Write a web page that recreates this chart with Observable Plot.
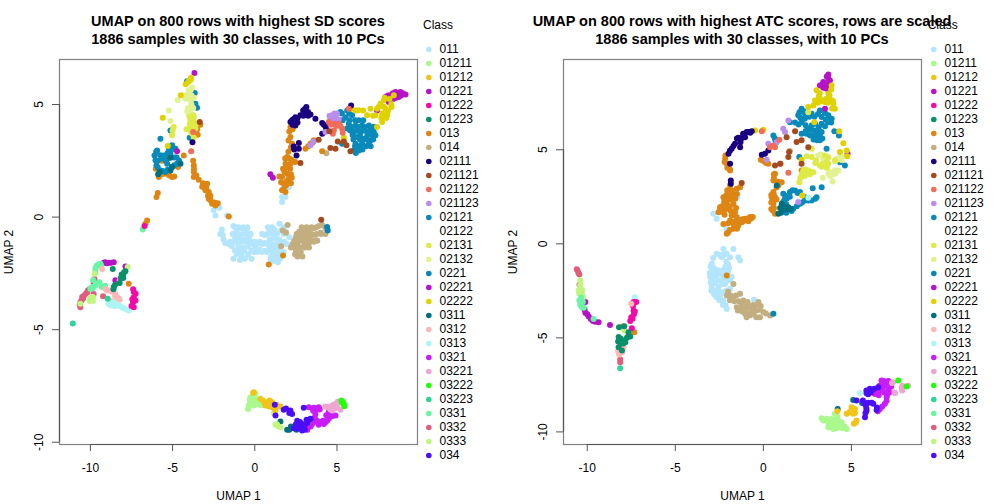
<!DOCTYPE html>
<html><head><meta charset="utf-8">
<script src="https://cdn.jsdelivr.net/npm/d3@7"></script>
<script src="https://cdn.jsdelivr.net/npm/@observablehq/plot@0.6"></script>
<style>
html,body{margin:0;padding:0;background:#fff;overflow:hidden;width:1008px;height:504px}
#page{position:relative;width:1008px;height:504px;font-family:"Liberation Sans",sans-serif;color:#000}
#page>*{position:absolute}
.title{font-size:14.5px;font-weight:bold;line-height:18px;text-align:center;white-space:nowrap;transform:translateX(-50%)}
.ctitle{font-size:12px;line-height:14px}
</style></head><body><div id="page"></div>
<script>
const classes=["011","01211","01212","01221","01222","01223","013","014","02111","021121","021122","021123","02121","02122","02131","02132","0221","02221","02222","0311","0312","0313","0321","03221","03222","03223","0331","0332","0333","034"];
const colors=["#b3e5fc","#a9f98d","#f0c419","#b612c6","#f40aa6","#09906a","#dd8613","#c2ae7f","#1a0080","#a44a1f","#f16c59","#b98feb","#098aba","#ffffff","#deea47","#e3f290","#0a85b8","#b412d0","#e0d200","#00707f","#ffb8b8","#acf5f3","#c91cfb","#eea6d0","#22ff0a","#2dd397","#6af5a5","#de5e7c","#c0f67e","#4a0ff6"];
const xTicks=[-10,-5,0,5], yTicksSD=[-10,-5,0,5], yTicksATC=[-10,-5,0,5];

// ---- SD panel ----
const sd_011=[[-2.5,.3],[-2.39,.07],[-2.15,.41],[-1.68,.07],[1.66,.89],[1.66,.67],[2.07,1.33],[1.87,.89],[-2.1,-.75],[-1.9,-1],[-1.6,-1.2],[-1.3,-.4],[-1.1,-.6],[-.8,-.5],[-.5,-.6],[-1.2,-.9],[-.9,-.95],[-.6,-1],[-.35,-.9],[-1.4,-1.3],[-1,-1.3],[-.7,-1.35],[-.4,-1.3],[-1.1,-1.65],[-.8,-1.7],[-.4,-1.65],[-.1,-1.2],[-.05,-1.55],[-.9,-1.9],[.6,-.8],[.9,-.6],[1.2,-.55],[1.5,-.3],[1.6,-.6],[1.9,-.65],[2.1,-.9],[.3,-1.1],[.6,-1.15],[.9,-1],[1.2,-.95],[1.5,-1],[1.8,-1.1],[0,-1.3],[.3,-1.45],[.6,-1.5],[.9,-1.4],[1.2,-1.35],[1.5,-1.35],[1,-1.75],[1.3,-1.7],[1.6,-1.65],[1.1,-1.95],[1.4,-2],[-1.2,-.45],[-1,-.45],[-.7,-.45],[-.45,-.45],[-1.35,-.75],[-1.05,-.75],[-.75,-.75],[-.45,-.75],[-.25,-.75],[-1.5,-1.1],[-1.25,-1.1],[-1,-1.1],[-.75,-1.1],[-.5,-1.1],[-.25,-1.1],[0,-1.1],[-1.2,-1.5],[-.95,-1.5],[-.65,-1.5],[-.2,-1.5],[.2,-1.5],[-1.3,-1.85],[-.6,-1.85],[-.2,-1.85],[-1.95,-.8],[-1.8,-1.15],[-2,-.55],[.45,-.75],[.75,-.75],[1.05,-.75],[1.35,-.75],[1.75,-.75],[.15,-1.2],[.45,-1.2],[.75,-1.2],[1.05,-1.2],[1.35,-1.2],[1.65,-1.2],[1.95,-1.2],[.8,-.45],[1.05,-.45],[1.75,-.45],[.15,-1.55],[.45,-1.55],[.75,-1.55],[1.1,-1.55],[1.4,-1.55],[1.75,-1.55],[.95,-1.85],[1.25,-1.85],[1.55,-1.85]];
const sd_014=[[2.7,-.65],[3,-.6],[3.3,-.55],[3.6,-.5],[3.9,-.4],[4.1,-.35],[4.3,-.5],[2.5,-.9],[2.8,-.95],[3.1,-.9],[3.4,-.85],[3.7,-.8],[4,-.7],[2.3,-1.2],[2.6,-1.2],[3,-1.25],[3.3,-1.15],[3.6,-1.1],[2.5,-1.5],[2.8,-1.55],[2.6,-1.75],[2.9,-1.75],[1.6,-1.3],[1.7,-.6],[2,-.35],[1.9,-.7],[4.36,2.84],[2.85,-.45],[3.15,-.45],[3.45,-.45],[3.75,-.45],[2.55,-.75],[2.85,-.75],[3.15,-.75],[3.45,-.75],[3.75,-.75],[4.05,-.75],[4.3,-.75],[2.4,-1.05],[2.7,-1.05],[2.95,-1.05],[3.25,-1.05],[3.55,-1.05],[3.8,-1.05],[2.2,-1.35],[2.45,-1.35],[2.75,-1.35],[3.05,-1.35],[3.3,-1.35],[2.45,-1.65],[2.75,-1.65]];
const sd_013=[[-5.54,2.52],[-5.33,2.59],[-6.02,2.15],[-5.84,1.78],[-5.44,1.93],[-5.03,1.78],[-4.67,2.22],[-4.32,2.74],[-3.71,2.3],[-3.71,2],[-3.71,1.78],[-3.41,1.66],[-3.1,1.41],[-2.9,1.48],[-3,1.19],[-2.8,1.11],[-2.8,.81],[-2.6,.59],[-2.25,.62],[-2.39,.52],[-5.9,1.07],[-5.98,.89],[-6.55,-.15],[-6.65,-.3],[-1.58,.03],[-3.47,3.66],[-3.31,4.1],[2.17,4],[2.17,3.56],[2.27,3.26],[2.37,3.04],[1.97,2.67],[1.87,2.37],[2.17,2.37],[1.97,1.93],[1.66,1.78],[2.07,1.7],[1.76,1.48],[1.66,1.19],[1.87,1.11],[3.08,3.04],[3.39,3.26],[3.59,3.41],[4.1,2.92],[1.72,2.15],[.85,-2.1],[1.72,-1.7],[-7.67,-2.96],[2.1,3.8],[2.3,3.9],[2.05,3.4],[2.2,3.1],[2.05,2.9],[1.85,2.6],[2.1,2.6],[1.95,2.2],[2.15,2.15],[1.8,2],[2.2,1.9],[1.95,1.6],[1.6,1.55],[2.2,1.5],[1.75,1.25],[1.9,1.4],[2.45,2.45],[2.25,2.55],[1.5,1.8],[2.25,1.75],[-3.2,1.35],[-3.05,1.3],[-2.95,1.3],[-3.15,1.5],[-2.85,.95],[-2.7,.75],[-2.45,.65],[-2.7,.95],[-5.2,1.85],[-5.65,1.9],[-5.65,2.5],[-3.7,2.15],[-3.75,2.5],[-3.55,1.85],[-4.9,1.8],[-3.5,3.9],[3.25,3.15],[3.5,3.3]];
const sd_02121=[[-4.12,6.03],[-3.65,5.51],[-3.61,5.04],[-3.51,4.86],[-5.13,3.85],[-3.96,3.53],[-5.74,3.48],[-6.1,2.74],[-6.04,2.52],[-5.98,2.3],[-5.74,2.07],[-5.44,2],[-5.03,2.22],[-4.73,2.37],[-5.03,3.19],[-5.23,3.04],[-4.83,3.04],[-5.54,2.74],[-5.13,2.81],[-5.94,2.96],[-5.33,2.37],[5.21,4.67],[5.62,4.74],[5.52,4.44],[5.92,4.52],[6.33,4.3],[5.72,4.15],[6.13,4.07],[6.53,4.07],[6.94,4.07],[5.62,3.93],[6.02,3.78],[6.43,3.78],[6.84,3.78],[7.24,3.78],[6.23,3.56],[6.63,3.48],[7.04,3.41],[7.34,3.63],[6.13,3.26],[6.53,3.26],[6.94,3.26],[6.02,2.96],[6.33,2.96],[5.31,3.26],[-6,2.9],[-5.9,2.5],[-5.9,2.2],[-5.6,2.05],[-5.3,2.1],[-4.9,2.3],[-5.3,2.85],[-5.4,2.5],[-5.05,3],[-4.9,2.65],[-4.6,2.5],[-4.75,2.65],[-5.65,2.6],[-5.75,2.75],[-5.2,2.65],[5.3,4.6],[5.75,4.6],[5.35,4.3],[5.75,4.3],[6.1,4.3],[6.6,4.3],[5.9,4],[6.3,4],[6.7,4],[7.15,4],[7.3,4],[5.8,3.85],[6.2,3.85],[6.6,3.85],[7,3.85],[5.95,3.65],[6.4,3.65],[6.85,3.65],[7.15,3.65],[6,3.45],[6.4,3.45],[6.8,3.45],[7.2,3.45],[6.1,3.15],[6.35,3.15],[6.75,3.15],[7.05,3.15],[6.2,3],[6.55,3],[6.15,2.85]];
const sd_02222=[[-3.87,6.19],[-4,6.07],[-4.2,5.9],[-4.5,5.41],[-5.6,4.41],[-5.29,3.16],[5.86,4.81],[6.13,4.74],[6.59,4.74],[7.04,4.81],[7.44,4.81],[7.65,5.04],[7.85,5.19],[8.32,4.89],[7.95,4.81],[8.05,4.52],[7.75,4.22],[7.44,4],[7.34,4.52],[6.84,4.52],[8.46,5.41],[5.42,3.53],[7.85,4.9],[7.75,4.6],[8.1,4.7],[8.3,5],[7.55,4.9],[8,4.4],[7.9,5.3],[7.7,4.4],[6.3,4.75],[7.2,4.5],[8.2,5.25],[-3.9,6.1],[-4.05,6]];
const sd_02132=[[-4.02,5.63],[-3.81,5.75],[-4.12,5.33],[-3.91,5.19],[-4.22,5.26],[-4.69,5.19],[-5.23,4.74],[-5.13,4.27],[-3.91,4.81],[-4.02,4.52],[-3.9,5.65],[-4.1,5.45],[-3.85,5.4],[-3.7,5.3],[-4,5.25],[-4.3,5.4],[-3.85,5],[-4.05,4.85],[-3.75,4.85],[-4.1,4.7],[-3.9,4.6]];
const sd_02131=[[-3.75,4.52],[-3.91,4.3],[-3.71,4.22],[-3.81,4],[-4.02,3.93],[-3.61,3.93],[-3.81,3.7],[-4.93,4],[-5.03,3.63],[-3.71,3.53],[-3.7,4.45],[-3.95,4.15],[-3.6,4.1],[-3.85,4.1],[-3.75,3.85],[-3.9,3.8],[-4.15,3.9],[-3.95,4.45],[-3.75,4.3],[-5,3.85]];
const sd_01221=[[7.95,5.33],[8.26,5.41],[8.56,5.56],[8.86,5.56],[9.17,5.44],[8.76,5.33],[8.46,5.26],[8.15,5.11],[7.44,4.74],[.95,1.9],[1.1,1.75],[-3.67,6.4],[-4.73,2.93],[-9.19,-2.03],[-8.88,-2.03],[-8.58,-2],[-8.48,-2.81],[-7.87,-2.19],[8.2,5.25],[8.4,5.5],[8.7,5.45],[9,5.5],[8.6,5.3],[8.9,5.4],[8.1,5.4],[7.95,5.25],[8.35,5.3],[-9.1,-2],[-9,-2.05],[-8.75,-2.03]];
const sd_02111=[[3.14,4.89],[2.94,4.74],[3.24,4.67],[2.78,4.52],[3.39,4.56],[2.47,4.44],[2.27,4.3],[2.17,4.22],[2.47,4.07],[3.69,4.37],[4.1,4.18],[4.3,4.03],[4.5,4.15],[4.1,3.7],[2.68,3.29],[2.68,3.04],[2.37,3.14],[2.54,2.74],[5.86,4.96],[-3.79,3.32],[3.05,4.8],[3.1,4.55],[2.95,4.5],[2.6,4.4],[2.35,4.35],[2.6,4.2],[2.3,4.1],[3.25,4.5],[4.2,4.1],[4.35,3.9],[2.4,3]];
const sd_021123=[[4.71,4.52],[4.91,4.44],[4.6,4.37],[5.11,4.33],[4.3,3.78],[3.59,3.36],[3.39,3.19],[4.75,4.35],[5,4.6],[4.85,4.6],[4.55,4.5],[4.9,4.3]];
const sd_021122=[[4.5,4.22],[4.81,4.15],[5.11,4.15],[5.31,3.93],[4.81,3.85],[5.72,4.81],[-3.75,3.78],[-3.87,2.93],[4.6,4.1],[4.95,4.05],[5.2,4.05],[5.35,3.75],[4.75,3.7]];
const sd_021121=[[3.89,3.44],[4.54,3.81],[5.05,3.36],[5.42,3.36],[5.58,3.19],[4.6,3.07],[4.91,3.04],[5.82,2.93],[2.78,2.4],[4.04,-.12],[-3.35,4.22]];
const sd_0221=[[4.4,-.44],[4.44,-.6]];
const sd_0311=[[-5.88,1.9],[-5.78,2],[-5.13,2.64],[-5.03,2.22],[-4.52,2.37],[-5.13,2.07],[1.56,-9.08],[1.97,-9.44],[2.31,-9.33],[2.54,-9.44],[2.1,-9.45],[2.2,-9.3]];
const sd_0332=[[-10.61,-4],[-10.61,-3.78],[-10.45,-3.63],[-10.3,-3.41],[-10.16,-3.26],[-9.8,-3.41],[-9.8,-2.89],[-9.23,-3.51],[-10.55,-3.7],[-10.4,-3.5],[-10.2,-3.35],[-10.05,-3.2],[-10.5,-3.55],[-10.65,-3.9],[-9.75,-2.75]];
const sd_0331=[[-9.7,-2.3],[-9.39,-2.07],[-9.6,-2.15],[-9.7,-2.44],[-9.45,-2.89],[-9.9,-3.11],[-9.7,-3.04],[-10,-3.19],[-9.18,-3.07],[-9.84,-2.79],[-6.82,-.55],[-9.65,-2.2],[-9.5,-2.1],[-9.85,-3.15],[-9.6,-2.95],[-9.1,-3.05],[-9.3,-3.1],[-9.35,-2.15]];
const sd_0333=[[-9.94,-3.66],[-10.04,-3.73],[-9.84,-3.56],[-9.74,-2.52],[-10.61,-3.85],[-7.73,-2.22],[1.16,-8.7],[1.26,-9.22],[1.56,-9.33],[-9.9,-3.55],[-10,-3.6],[-9.85,-3.72],[1.35,-9.2],[1.45,-9.3]];
const sd_0312=[[-9.29,-2.3],[-8.88,-3.26],[-9.08,-3.19],[-8.48,-3.41],[-8.38,-3.56],[-8.22,-3.67],[-8.22,-2.81],[-8.78,-3.73],[-9,-3.25],[-8.7,-3.3],[-8.5,-3.5],[-8.3,-3.6],[-8.6,-3.75]];
const sd_0313=[[-8.74,-3.93],[-8.38,-3.93],[-8.07,-4],[-7.77,-4.12],[-8.58,-3.78],[-8.9,-3.85],[-8.55,-3.95],[-8.2,-3.95],[-7.95,-4.05],[-7.65,-4.15],[-8.5,-3.85]];
const sd_01222=[[-7.36,-3.33],[-7.36,-3.56],[-7.4,-3.78],[-7.36,-4],[-7.26,-3.7],[-6.71,-.4],[-7.4,-3.2],[-7.25,-3.4],[-7.45,-3.65],[-7.5,-3.95]];
const sd_01223=[[-8.64,-2.3],[-8.01,-2.59],[-7.87,-2.4],[-8.22,-2.93],[-8.58,-3.11],[-8.1,-2.55],[-8,-2.7],[-7.95,-2.45],[-8.5,-3],[-8.6,-3.2],[-8.15,-2.7]];
const sd_03223=[[-11.07,-4.73],[-8.95,-3.63]];
const sd_01211=[[-.26,-8],[.04,-7.85],[-.16,-8.15],[-.37,-8.37],[-.06,-8.37],[.34,-8.33],[.55,-8.34],[-.41,-8.52],[-.3,-8.1],[0,-8.05],[-.1,-7.95],[-.3,-8.3],[0,-8.2],[.2,-8.3],[.4,-8.35],[.25,-8.2]];
const sd_01212=[[-.06,-7.78],[.34,-8.07],[.75,-8.22],[1.05,-8.22],[.65,-8.37],[1.05,-8.44],[1.56,-8.41],[1.26,-8.59],[.5,-8.15],[.9,-8.15],[.6,-8.25],[.85,-8.4],[1.15,-8.35],[1.35,-8.35],[.95,-8.3],[1.2,-8.5],[-.1,-7.8]];
const sd_034=[[1.26,-8.81],[1.76,-8.56],[2.17,-8.59],[2.27,-8.74],[2.98,-8.47],[2.58,-9.04],[2.88,-9.19],[3.39,-8.96],[3.18,-9.15],[2.68,-9.33],[2.88,-9.48],[2.37,-9.38],[1.22,-8.33],[2.75,-9.1],[3,-9.3],[2.5,-9.2],[3.3,-9],[2.6,-9.4],[3.15,-9],[1.9,-8.5],[2.1,-8.7],[3.05,-9.45]];
const sd_0321=[[3.29,-8.44],[3.59,-8.47],[3.89,-8.44],[3.69,-8.74],[3.79,-9.04],[3.49,-9.19],[3.18,-9.33],[3.89,-9.22],[4.3,-9.11],[4.5,-8.96],[4.5,-8.67],[4.91,-8.81],[4.2,-9.19],[3.4,-9.3],[3.6,-9.1],[3.7,-8.55],[3.95,-8.55],[3.55,-8.6],[4,-9.1],[4.15,-9.05],[4.4,-9.05],[4.6,-8.8],[4.7,-8.85],[4.35,-8.8],[3.65,-8.9],[3.2,-9.45]];
const sd_03221=[[4.3,-8.41],[4.6,-8.41],[4.91,-8.3],[5.01,-8.44],[5.21,-8.56],[4.71,-8.59],[4.45,-8.45],[4.75,-8.35],[4.85,-8.5],[5.05,-8.2],[4.6,-8.55]];
const sd_03222=[[5.27,-8.15],[5.42,-8.3],[5.35,-8.2],[5.45,-8.4],[5.3,-8.25]];

// ---- ATC panel ----
const atc_02111=[[-.95,5.94],[-1.13,5.76],[-1.42,5.64],[-1.61,5.32],[-1.8,5.05],[-1.98,4.79],[-1.89,4.26],[-1.85,3.37],[-1.04,5.67],[-.66,5.99],[-1.32,5.14],[-.85,5.94],[.09,4.79],[-.09,4.73],[.28,4.96],[-1.5,5.6],[-1.25,5.6],[-1.3,5.4],[-1.7,5.2],[-1.9,4.95],[-.75,5.9],[-1.15,5.85],[-1.85,3.2]];
const atc_013=[[-2.17,4.52],[-2.08,4.26],[-1.89,3.9],[-1.89,3.1],[-2.27,2.48],[-1.89,2.57],[-1.51,2.93],[-2.46,1.95],[-2.08,2.13],[-1.7,2.13],[-2.55,1.68],[-2.08,1.86],[-1.61,1.68],[-1.51,1.42],[-1.04,1.33],[-1.42,.98],[-1.7,.8],[-2.08,.53],[-2.27,1.06],[-1.8,2.84],[-2.23,2.22],[-1.89,1.24],[-.76,1.42],[-1.23,1.15],[-.95,1.33],[-.6,1.42],[-1.32,3.01],[-.15,4.47],[.28,4.26],[.66,3.72],[.57,3.37],[1.04,3.28],[.85,3.1],[.57,2.75],[.47,2.48],[.66,2.48],[.57,2.13],[.53,1.77],[.66,1.6],[2.17,3.9],[-2.08,-1.68],[-7.98,-4.4],[-7.33,-4.7],[-2.35,2],[-2.2,1.8],[-2.2,1.55],[-2.05,2.35],[-1.85,2.35],[-2.1,2.6],[-2.05,2.85],[-1.7,2.65],[-1.6,2.4],[-1.5,2.65],[-1.9,2],[-1.85,1.75],[-1.55,1.9],[-2.35,1.7],[-2.45,1.85],[-1.8,1.5],[-2,1.1],[-1.6,1.2],[-1.4,1.25],[-1.7,1.05],[-1.5,.8],[-1.9,.75],[-2,.6],[-1.2,1.3],[-2.2,4.35],[-2.15,4.7],[-2.05,4.05],[-1.9,3.95],[-1.15,1.2],[-.85,1.2],[-.7,1.35],[.6,3.5],[.85,3.3],[.75,3],[.6,2.6],[.55,2.3],[.45,2.2],[.75,2.35],[.6,1.9],[.45,1.85],[.6,3.7],[0,4.4],[.15,4.3],[.45,2.6]];
const atc_02121=[[2.17,7.18],[2.36,6.91],[1.98,6.83],[1.51,6.47],[2.17,6.47],[2.74,6.91],[3.21,7.09],[3.31,6.74],[3.69,6.83],[3.88,6.65],[2.93,6.38],[3.31,6.38],[3.69,6.47],[2.55,6.12],[2.93,6.03],[3.31,5.94],[2.17,5.85],[2.65,5.76],[3.02,5.67],[3.21,5.5],[.57,5.76],[4.03,5.99],[4.29,5.76],[3.59,5.05],[2.04,4.61],[4.35,4.34],[4.63,4.17],[3.02,2.48],[2.74,2.3],[2.36,2.3],[2.08,2.13],[1.7,1.86],[1.42,1.86],[1.13,2.66],[1.51,2.75],[1.8,2.84],[2.08,2.75],[2.36,2.48],[1.13,2.22],[1.32,2.39],[2.8,2.96],[3.31,3.01],[2.3,7.05],[2.05,7],[2.1,6.7],[2.35,6.65],[2.6,6.75],[2.9,6.75],[3.1,6.9],[3.5,6.95],[3.55,6.6],[3.85,6.45],[2.4,6.3],[2.75,6.3],[3.15,6.2],[3.5,6.25],[2.7,6.05],[3.1,5.95],[2.45,5.85],[2.9,5.8],[3.2,5.8],[3.05,5.5],[3.35,5.6],[2.85,5.55],[2,6.35],[1.8,6.45],[2.4,6],[3.7,6.7],[.65,5.6],[.7,5.45],[2.95,2.4],[2.55,2.3],[2.2,2.2],[1.9,2],[1.6,1.75],[1.3,1.65],[1.25,2.55],[1.65,2.85],[1.95,2.7],[1.3,2.1],[1.5,2.5],[1.2,2.35]];
const atc_0221=[[.57,-3.72]];
const atc_0311=[[.85,1.6],[1.13,1.81],[1.42,1.95],[1.04,2.13],[.76,3.1],[4.22,-8.78],[5.1,-8.3],[5.61,-8.46],[1,1.65],[1.3,1.85],[1.2,2],[.95,1.9],[1.55,1.85]];
const atc_02222=[[4.06,7.18],[3.02,8.16],[3.88,8.42],[3.69,7.98],[3.21,7.71],[2.93,7.62],[3.78,7.71],[3.5,7.54],[2.84,7.36],[2.55,7.27],[3.97,7.45],[2.89,6.47],[4.31,5.98],[4.54,5.35],[4.73,4.96],[4.76,4.66],[4.35,4.88],[-.47,6.03],[0,6.06],[2.21,2.57],[2.17,4.47],[3.3,7.6],[3.55,7.7],[3.75,7.9],[3.95,7.6],[3.1,7.5],[3.65,7.5],[3.2,8],[3.15,7.85],[3.9,7.2],[3.85,8.2]];
const atc_01221=[[3.69,9],[3.69,8.78],[3.4,8.6],[3.21,8.42],[3.59,8.42],[3.78,8.69],[3.4,8.3],[4.78,4.79],[3.5,7.18],[-10.11,-3.1],[-10.11,-3.67],[-9.92,-3.87],[-9.68,-4.11],[-9.36,-4.17],[-8.71,-4.31],[3.6,8.9],[3.5,8.5],[3.7,8.5],[3.3,8.45],[3.6,8.25],[-10.15,-3.5],[-10,-3.75],[-9.8,-4],[-9.55,-4.15]];
const atc_02131=[[2.74,5.05],[2.46,4.66],[2.74,4.61],[2.27,3.9],[2.55,3.9],[2.84,3.81],[2.17,3.63],[2.46,3.72],[2.04,3.28],[3.21,4.17],[3.5,4.17],[3.69,4.26],[3.5,4.7],[2.99,4.43],[4.06,4.43],[2.55,7],[2.5,3.8],[2.4,3.95],[2.65,3.85],[2.2,3.75],[2.1,3.5],[2.35,3.6],[2.65,3.7],[3.3,4.1],[3.6,4.05],[3.35,4.25],[3.6,4.35],[2.95,4.3],[3.7,4.6]];
const atc_02132=[[3.12,4.7],[4.35,4.61],[4.16,4.52],[3.78,3.81],[4.06,3.9],[4.25,3.9],[3.69,3.72],[3.37,3.51],[3.93,3.32],[4.44,4.61],[3.5,4.43],[3.25,4.75],[3.95,3.7],[4.1,3.75],[3.8,3.6],[4.25,4.5],[4.45,4.45],[4.1,4.4],[3.4,4.5]];
const atc_021121=[[1.32,5.67],[1.8,5.98],[1.89,5.41],[2.17,5.5],[2.55,5.14],[1.46,4.88],[1.42,4.61],[.66,4.17],[.95,4.26],[2.17,4.26],[-1.23,3.23]];
const atc_021122=[[-.09,5.99],[.57,5.23],[.38,5.14],[.91,5.53],[1.42,3.78],[.98,4.26],[.66,5.14]];
const atc_021123=[[1.13,6.12],[1.42,6.56],[.28,5.32],[1.98,2.22],[.76,5.4],[.19,4.47],[1.23,5.94]];
const atc_014=[[1.51,4.93],[-1.7,-2.13],[-2.08,-2.75],[-1.7,-2.84],[-1.32,-2.66],[-1.51,-3.37],[-1.13,-3.55],[-.85,-3.72],[-.95,-3.28],[-1.23,-3.37],[-1.04,-3.72],[-.76,-3.37],[-.47,-3.28],[-.28,-3.1],[-.19,-3.9],[0,-3.63],[.38,-3.81],[-.57,-3.72],[-1.13,-3.01],[-2,-2.55],[-1.85,-2.75],[-1.55,-2.75],[-1.9,-3],[-1.65,-3.05],[-1.4,-3.05],[-1.45,-3.55],[-1.2,-3.6],[-1,-3.5],[-1.25,-3.15],[-.9,-3.1],[-.65,-3.55],[-.4,-3.55],[-.2,-3.5],[-.15,-3.3],[.15,-3.7],[-.4,-3.9],[-.75,-3.8],[-.6,-3.25],[-.95,-3.9]];
const atc_0313=[[2.55,2.45],[-7.3,-2.84],[5.48,-7.93]];
const atc_011=[[-2.84,1.6],[-2.65,1.33],[-2.08,.71],[-2.17,.98],[-1.47,2.48],[-2.27,-.27],[-1.7,-.27],[-2.65,-.53],[-2.08,-.53],[-2.93,-1.06],[-1.89,-.71],[-1.42,-.71],[-3.02,-1.77],[-2.65,-1.68],[-2.93,-2.3],[-2.55,-2.3],[-2.17,-2.13],[-1.8,-1.77],[-2.65,-2.84],[-2.27,-3.01],[-2.36,-2.57],[-2.08,-3.46],[-2.36,-.71],[-2,-1.1],[-2.9,-1.4],[-2.3,-1.4],[-2,-1.5],[-1.32,-.89],[-1.32,-2.66],[-.53,-2.98],[-2.85,-.75],[-2.45,-.6],[-2.25,-.6],[-2.1,-.95],[-1.95,-1.3],[-2.15,-1.2],[-3,-1.2],[-2.8,-1.3],[-2.6,-1.4],[-2.4,-1.6],[-2.2,-1.7],[-1.9,-1.95],[-3.05,-1.55],[-2.85,-1.6],[-2.8,-1.9],[-2.5,-1.95],[-2.3,-1.9],[-2.1,-1.85],[-3,-2.05],[-2.75,-2.1],[-2.35,-2.15],[-2.95,-2.5],[-2.75,-2.5],[-2.55,-2.55],[-2.1,-2.5],[-1.9,-2.4],[-2.8,-2.7],[-2.45,-2.75],[-2.5,-3],[-2.15,-3.25],[-2.3,-3.25],[-2.65,-1.95]];
const atc_0332=[[-10.55,-1.42],[-10.45,-1.63],[-10.44,-2.18],[-8.13,-6.3],[-10.5,-1.55],[-10.6,-1.35],[-8.13,-6.15]];
const atc_0333=[[-10.4,-1.95],[-10.49,-2.48],[-10.3,-2.66],[-7.9,-4.61],[4.91,-8.95],[-10.3,-2.45],[-10.25,-2.85],[-10.45,-2.65],[-10.4,-2.2]];
const atc_0331=[[-10.4,-3.1],[-10.3,-3.37],[-9.64,-4],[-10.45,-3],[-10.25,-3.1],[-10.4,-3.25],[-10.2,-3.4],[-10.35,-2.85]];
const atc_01222=[[-7.37,-3.1],[-7.37,-3.55],[-7.43,-3.99],[-7.56,-4.11],[-7.47,-4.49],[-7.22,-3.1],[-7.4,-3.3],[-7.35,-3.75],[-7.5,-3.9],[-7.3,-3.6]];
const atc_0312=[[-7.5,-3.19],[-8.13,-5.67],[-8.17,-5.89],[-7.94,-5.5],[-8.25,-5.7],[-8,-5.75],[-8.1,-5.5],[-8.2,-5.85]];
const atc_01223=[[-8.2,-4.43],[-7.9,-4.38],[-7.66,-4.7],[-7.56,-4.93],[-8.22,-4.96],[-8.03,-5.14],[-8.22,-5.5],[-8.03,-5.67],[-7.84,-5.23],[-8.1,-5.05],[-7.95,-5.3],[-8.25,-5.2],[-7.65,-4.85],[-7.75,-5],[-8.1,-5.3]];
const atc_03223=[[-8.13,-6.61]];
const atc_01211=[[3.31,-9.27],[3.59,-9.4],[3.88,-9.31],[3.69,-9.75],[3.97,-9.84],[4.35,-9.75],[4.25,-9.4],[4.06,-9.04],[4.73,-9.84],[4.44,-9.49],[3.4,-9.4],[3.7,-9.5],[3.95,-9.6],[4.15,-9.6],[3.8,-9.75],[4.5,-9.8],[4.2,-9.2],[3.85,-9.45],[4.1,-9.35],[4.35,-9.55],[4.6,-9.7],[4.15,-9.8],[3.75,-9.6],[3.6,-9.3]];
const atc_01212=[[4.2,-8.9],[4.73,-9.04],[5.01,-8.69],[5.2,-8.78],[5.1,-9.04],[5.29,-9.4],[5.14,-9.57],[4.9,-8.95],[5.1,-8.8],[5.25,-9.5],[5,-8.85],[5.2,-9]];
const atc_034=[[5.77,-9.22],[5.86,-8.87],[5.82,-8.6],[5.65,-8.33],[6.24,-8.51],[6.43,-8.83],[5.86,-7.94],[6.05,-7.71],[6.52,-7.62],[5.29,-8.33],[5.8,-9],[5.85,-8.75],[5.75,-8.5],[5.95,-8.45],[6.15,-8.45],[5.95,-8],[6.1,-7.9],[5.85,-7.8],[6.3,-7.7],[6.45,-8.7]];
const atc_0321=[[6.62,-8.78],[6.9,-8.51],[7,-8.16],[6.33,-7.98],[6.62,-7.8],[6.71,-7.27],[7,-7.36],[7.18,-7.45],[6.81,-7.54],[7.09,-7.71],[6.5,-8.9],[6.75,-8.65],[7,-8.35],[7.05,-8],[6.45,-7.85],[6.75,-7.75],[6.85,-7.9],[6.3,-7.85],[6.85,-7.3],[7.1,-7.3],[6.9,-7.5],[7.25,-7.6],[6.6,-7.55],[7.15,-7.9],[6.55,-8.05]];
const atc_03221=[[7.37,-7.36],[7.47,-7.94],[7.9,-7.54],[7.88,-7.8],[8.22,-7.54],[7.45,-7.9],[7.85,-7.65],[7.3,-7.4]];
const atc_03222=[[7.66,-7.27],[8.13,-7.59]];

const sdLayers=[["011",sd_011],["014",sd_014],["013",sd_013],["02121",sd_02121],["0221",sd_0221],["0311",sd_0311],["02132",sd_02132],["02131",sd_02131],["01221",sd_01221],["02222",sd_02222],["02111",sd_02111],["021123",sd_021123],["021122",sd_021122],["021121",sd_021121],["0332",sd_0332],["0331",sd_0331],["0333",sd_0333],["0312",sd_0312],["0313",sd_0313],["01222",sd_01222],["01223",sd_01223],["03223",sd_03223],["01211",sd_01211],["01212",sd_01212],["0321",sd_0321],["034",sd_034],["03221",sd_03221],["03222",sd_03222]];
const atcLayers=[["011",atc_011],["014",atc_014],["02121",atc_02121],["013",atc_013],["0221",atc_0221],["0311",atc_0311],["02132",atc_02132],["02131",atc_02131],["01221",atc_01221],["02222",atc_02222],["02111",atc_02111],["021123",atc_021123],["021122",atc_021122],["021121",atc_021121],["0313",atc_0313],["0332",atc_0332],["0333",atc_0333],["0331",atc_0331],["01222",atc_01222],["0312",atc_0312],["01223",atc_01223],["03223",atc_03223],["01211",atc_01211],["01212",atc_01212],["0321",atc_0321],["034",atc_034],["03221",atc_03221],["03222",atc_03222]];

const colorScale={domain:classes,range:colors};
function panel(layers,xDom,yDom,yTicks){
  const rows=layers.flatMap(([c,pts])=>pts.map(([x,y])=>({x,y,c})));
  return Plot.plot({
    width:504,height:504,marginLeft:59,marginRight:87,marginTop:59,marginBottom:60,
    x:{domain:xDom},y:{domain:yDom},color:colorScale,
    style:{fontFamily:'"Liberation Sans",sans-serif',fontSize:"12px",color:"#000",background:"transparent"},
    marks:[
      Plot.dot(rows,{x:"x",y:"y",fill:"c",r:3}),
      Plot.frame({stroke:"#808080",strokeWidth:1.2}),
      Plot.ruleY([yDom[0]],{x1:d=>xTicks[0],x2:d=>xTicks[xTicks.length-1],stroke:"#555",strokeWidth:1.2}),
      Plot.ruleX([xDom[0]],{y1:d=>yTicks[0],y2:d=>yTicks[yTicks.length-1],stroke:"#555",strokeWidth:1.2}),
      Plot.axisX(xTicks,{tickSize:7,tickPadding:12,tickFormat:d=>String(d),stroke:"#555",label:"UMAP 1",labelAnchor:"center",labelArrow:"none",labelOffset:55,fontSize:12}),
      Plot.axisY(yTicks,{tickSize:7,tickPadding:10,tickRotate:-90,textAnchor:"middle",tickFormat:d=>String(d),stroke:"#555",label:"UMAP 2",labelAnchor:"center",labelArrow:"none",labelOffset:55,fontSize:12})
    ]});
}
function legend(){
  return Plot.plot({
    width:84,height:504,margin:0,
    x:{domain:[0,1],range:[5.3,16],axis:null},
    y:{type:"point",domain:classes,range:[43.3,460.7],padding:0,axis:null},
    color:colorScale,
    style:{fontFamily:'"Liberation Sans",sans-serif',fontSize:"12px",color:"#000",background:"transparent"},
    marks:[
      Plot.dot(classes,{x:d=>0,y:d=>d,fill:d=>d,r:2.8}),
      Plot.text(classes,{x:d=>1,y:d=>d,text:d=>d,textAnchor:"start",fontSize:12,fill:"#000"})
    ]});
}
const page=document.getElementById("page");
function place(el,left,top){el.style.left=left+"px";el.style.top=(top||0)+"px";page.appendChild(el);return el;}
function label(cls,html,left,top){const d=document.createElement("div");d.className=cls;d.innerHTML=html;place(d,left,top);}
place(panel(sdLayers,[-11.88,9.9],[-10.1,7],yTicksSD),0);
place(panel(atcLayers,[-11.35,8.98],[-10.67,9.8],yTicksATC),504);
place(legend(),423);
place(legend(),927.7);
label("ctitle","Class",423,18);
label("ctitle","Class",927.7,18);
label("title","UMAP on 800 rows with highest SD scores<br>1886 samples with 30 classes, with 10 PCs",238,12);
label("title","UMAP on 800 rows with highest ATC scores, rows are scaled<br>1886 samples with 30 classes, with 10 PCs",742,12);
</script></body></html>
